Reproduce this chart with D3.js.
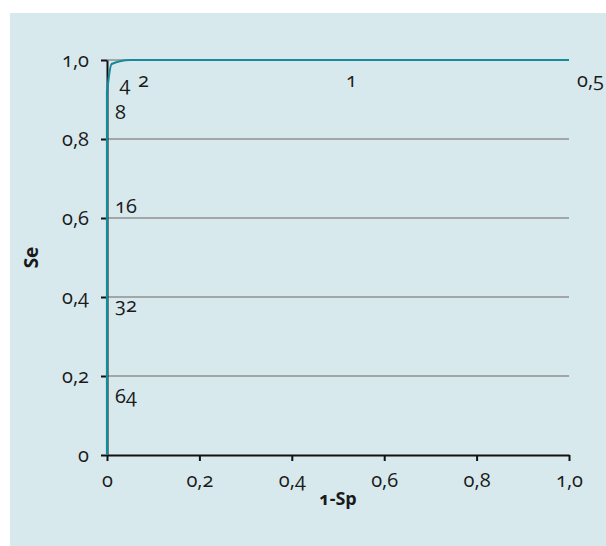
<!DOCTYPE html>
<html>
<head>
<meta charset="utf-8">
<script src="https://cdn.jsdelivr.net/npm/d3@7"></script>
<style>
  html, body { margin: 0; padding: 0; background: #ffffff; }
  svg text { font-family: "Open Sans", "Lato", sans-serif; font-variant-numeric: oldstyle-nums; font-feature-settings: "onum" 1; fill: #1a1a1a; }
</style>
</head>
<body>
<script>
// ROC curve: cut-off values with their (1-Sp, Se) coordinates
const cutoffs = ["64", "32", "16", "8", "4", "2", "1", "0,5"];
const fpr = [0, 0, 0, 0, 0.01, 0.05, 0.5, 1.0];
const sens = [0.20, 0.43, 0.68, 0.92, 0.99, 1.0, 1.0, 1.0];
const xTicks = [0, 0.2, 0.4, 0.6, 0.8, 1.0];
const yTicks = [0, 0.2, 0.4, 0.6, 0.8, 1.0];

const W = 606, H = 546;
const svg = d3.select("body").append("svg").attr("width", W).attr("height", H);

svg.append("rect").attr("x", 10).attr("y", 13).attr("width", W - 10).attr("height", H - 13)
  .attr("fill", "#d8e9ee");

const x = d3.scaleLinear().domain([0, 1]).range([107, 569]);
const y = d3.scaleLinear().domain([0, 1]).range([455, 60]);
const fmt = d => d === 0 ? "0" : d3.format(".1f")(d).replace(".", ",");

// horizontal gridlines
svg.append("g").selectAll("line").data(yTicks.filter(d => d > 0)).join("line")
  .attr("x1", x(0)).attr("x2", x(1))
  .attr("y1", d => y(d)).attr("y2", d => y(d))
  .attr("stroke", "#a3a6a8").attr("stroke-width", 2);

// axes
const xAxis = svg.append("g").attr("transform", `translate(0,${y(0)})`)
  .call(d3.axisBottom(x).tickValues(xTicks).tickFormat(fmt).tickSize(6).tickSizeOuter(0).tickPadding(12));
const yAxis = svg.append("g").attr("transform", `translate(${x(0)},0)`)
  .call(d3.axisLeft(y).tickValues(yTicks).tickFormat(fmt).tickSize(6).tickSizeOuter(0).tickPadding(12));
[xAxis, yAxis].forEach(g => {
  g.select(".domain").attr("stroke", "#111").attr("stroke-width", 2);
  g.selectAll(".tick line").attr("stroke", "#111").attr("stroke-width", 2);
  g.selectAll(".tick text").attr("font-size", 20).style("font-family", null);
});

// ROC curve: vertical run along 1-Sp = 0, then a smooth bend into the top edge
const pts = [[0, 0]].concat(fpr.map((f, i) => [f, sens[i]]));
const split = pts.findIndex(p => p[0] > 0) - 1;
const lineFn = d3.line().x(d => x(d[0])).y(d => y(d[1]));
const curveG = svg.append("g").attr("fill", "none").attr("stroke", "#168a9b").attr("stroke-width", 2.2);
curveG.append("path").attr("d", lineFn.curve(d3.curveLinear)(pts.slice(0, split + 1)));
curveG.append("path").attr("d", lineFn.curve(d3.curveMonotoneX)(pts.slice(split)));

// cut-off labels
svg.append("g").selectAll("text").data(cutoffs).join("text")
  .attr("x", (d, i) => x(fpr[i]) + 8)
  .attr("y", (d, i) => y(sens[i]) + 20)
  .attr("dy", "0.35em")
  .attr("font-size", 20)
  .text(d => d);

// axis titles
svg.append("text").attr("x", x(0.5)).attr("y", 505).attr("text-anchor", "middle")
  .attr("font-size", 18).attr("font-weight", "bold").text("1-Sp");
svg.append("text").attr("transform", `translate(38,${y(0.5)}) rotate(-90)`).attr("text-anchor", "middle")
  .attr("font-size", 19).attr("font-weight", "bold").text("Se");
</script>
</body>
</html>
